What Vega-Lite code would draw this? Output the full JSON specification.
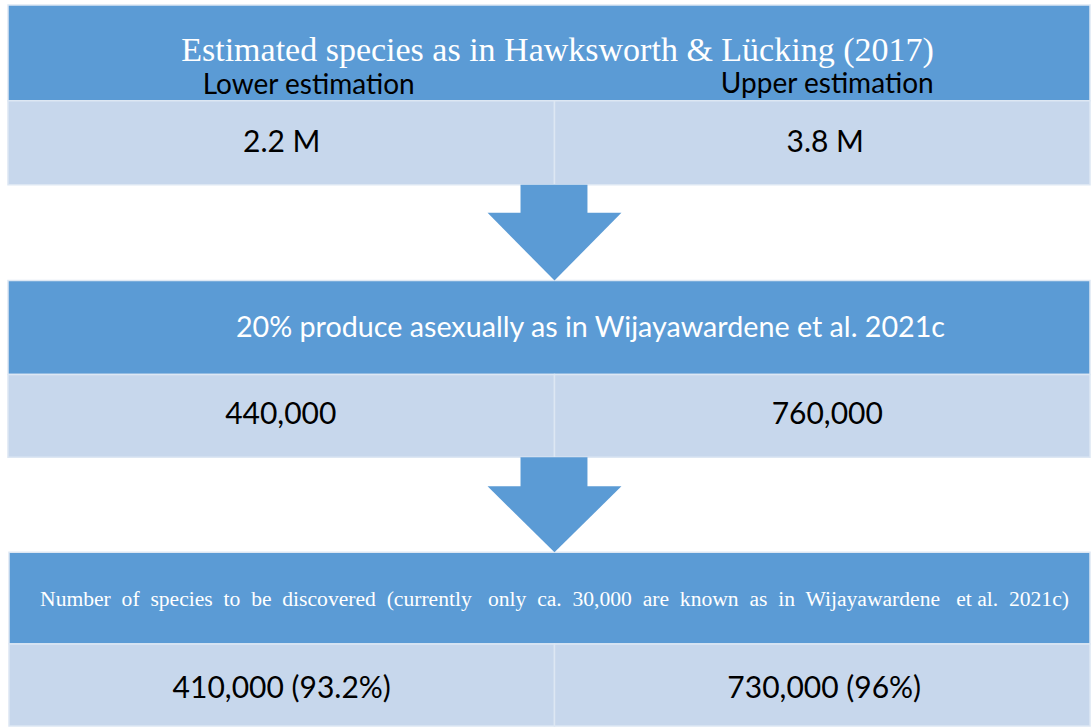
{
  "$schema": "https://vega.github.io/schema/vega-lite/v6.json",
  "width": 1091,
  "height": 727,
  "autosize": {"type": "fit", "contains": "padding"},
  "padding": 0,
  "background": "white",
  "config": {"view": {"stroke": null}},
  "datasets": {
    "boxes": [
      {"part": "header", "x": 8, "x2": 1091, "y": 5, "y2": 101},
      {"part": "value", "x": 8, "x2": 555, "y": 101, "y2": 185},
      {"part": "value", "x": 555, "x2": 1091, "y": 101, "y2": 185},
      {"part": "header", "x": 8, "x2": 1091, "y": 281, "y2": 375},
      {"part": "value", "x": 8, "x2": 555, "y": 375, "y2": 458},
      {"part": "value", "x": 555, "x2": 1091, "y": 375, "y2": 458},
      {"part": "header", "x": 9, "x2": 1091, "y": 553, "y2": 645},
      {"part": "value", "x": 9, "x2": 555, "y": 645, "y2": 727},
      {"part": "value", "x": 555, "x2": 1091, "y": 645, "y2": 727}
    ],
    "shafts": [
      {"arrow": 1, "x": 521, "x2": 588, "y": 185, "y2": 214},
      {"arrow": 2, "x": 521, "x2": 588, "y": 458, "y2": 488}
    ],
    "heads": [
      {"arrow": 1, "y": 213, "x": 488, "x2": 622},
      {"arrow": 1, "y": 281, "x": 555, "x2": 555},
      {"arrow": 2, "y": 487, "x": 488, "x2": 622},
      {"arrow": 2, "y": 553, "x": 555, "x2": 555}
    ],
    "serifTitles": [
      {"label": "Estimated species as in Hawksworth & Lücking (2017)", "x": 558, "y": 51}
    ],
    "smallSerif": [
      {"label": "Number\u00a0 of\u00a0 species\u00a0 to\u00a0 be\u00a0 discovered\u00a0 (currently\u00a0\u00a0 only\u00a0 ca.\u00a0 30,000\u00a0 are\u00a0 known\u00a0 as\u00a0 in\u00a0 Wijayawardene\u00a0\u00a0 et al.\u00a0 2021c)", "x": 555, "y": 601}
    ],
    "sansTitles": [
      {"label": "20% produce asexually as in Wijayawardene et al. 2021c", "x": 591, "y": 328}
    ],
    "subLabels": [
      {"label": "Lower estimation", "x": 309, "y": 86},
      {"label": "Upper estimation", "x": 828, "y": 85}
    ],
    "values": [
      {"label": "2.2 M", "x": 282, "y": 143},
      {"label": "3.8 M", "x": 826, "y": 143},
      {"label": "440,000", "x": 281, "y": 416},
      {"label": "760,000", "x": 828, "y": 416},
      {"label": "410,000 (93.2%)", "x": 282, "y": 690},
      {"label": "730,000 (96%)", "x": 825, "y": 690}
    ]
  },
  "layer": [
    {
      "data": {"name": "boxes"},
      "mark": {"type": "rect", "stroke": "#DDE7F3", "strokeWidth": 1.5},
      "encoding": {
        "x": {"field": "x", "type": "quantitative", "scale": {"domain": [0, 1091], "nice": false, "zero": false}, "axis": null},
        "x2": {"field": "x2"},
        "y": {"field": "y", "type": "quantitative", "scale": {"domain": [0, 727], "nice": false, "zero": false, "reverse": true}, "axis": null},
        "y2": {"field": "y2"},
        "color": {"field": "part", "type": "nominal", "scale": {"domain": ["header", "value"], "range": ["#5B9BD5", "#C7D7EC"]}, "legend": null}
      }
    },
    {
      "data": {"name": "shafts"},
      "mark": {"type": "rect", "color": "#5B9BD5"},
      "encoding": {
        "x": {"field": "x", "type": "quantitative"},
        "x2": {"field": "x2"},
        "y": {"field": "y", "type": "quantitative"},
        "y2": {"field": "y2"}
      }
    },
    {
      "data": {"name": "heads"},
      "mark": {"type": "area", "orient": "horizontal", "color": "#5B9BD5", "opacity": 1},
      "encoding": {
        "y": {"field": "y", "type": "quantitative"},
        "x": {"field": "x", "type": "quantitative"},
        "x2": {"field": "x2"},
        "detail": {"field": "arrow", "type": "nominal"}
      }
    },
    {
      "data": {"name": "serifTitles"},
      "mark": {"type": "text", "font": "Liberation Serif", "fontSize": 34, "color": "white", "align": "center", "baseline": "middle"},
      "encoding": {
        "x": {"field": "x", "type": "quantitative"},
        "y": {"field": "y", "type": "quantitative"},
        "text": {"field": "label"}
      }
    },
    {
      "data": {"name": "smallSerif"},
      "mark": {"type": "text", "font": "Liberation Serif", "fontSize": 21.6, "color": "white", "align": "center", "baseline": "middle"},
      "encoding": {
        "x": {"field": "x", "type": "quantitative"},
        "y": {"field": "y", "type": "quantitative"},
        "text": {"field": "label"}
      }
    },
    {
      "data": {"name": "sansTitles"},
      "mark": {"type": "text", "font": "Lato", "fontSize": 28.7, "color": "white", "align": "center", "baseline": "middle"},
      "encoding": {
        "x": {"field": "x", "type": "quantitative"},
        "y": {"field": "y", "type": "quantitative"},
        "text": {"field": "label"}
      }
    },
    {
      "data": {"name": "subLabels"},
      "mark": {"type": "text", "font": "Lato", "fontSize": 28, "color": "black", "align": "center", "baseline": "middle"},
      "encoding": {
        "x": {"field": "x", "type": "quantitative"},
        "y": {"field": "y", "type": "quantitative"},
        "text": {"field": "label"}
      }
    },
    {
      "data": {"name": "values"},
      "mark": {"type": "text", "font": "Lato", "fontSize": 30, "color": "black", "align": "center", "baseline": "middle"},
      "encoding": {
        "x": {"field": "x", "type": "quantitative"},
        "y": {"field": "y", "type": "quantitative"},
        "text": {"field": "label"}
      }
    }
  ]
}
